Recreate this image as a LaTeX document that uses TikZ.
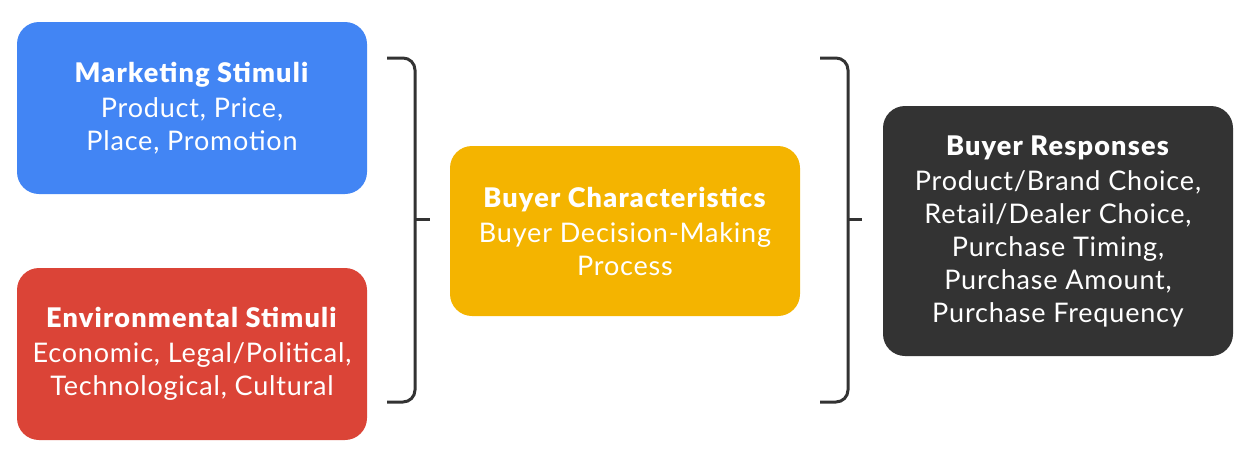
\documentclass[tikz,border=0pt]{standalone}
\usepackage{fontspec}
\setmainfont{Lato}[LetterSpace=3, BoldFont={Lato Black}, BoldFeatures={LetterSpace=4.5}]
\definecolor{cblue}{HTML}{4285F4}
\definecolor{cred}{HTML}{DB4437}
\definecolor{cyellow}{HTML}{F4B400}
\definecolor{cdark}{HTML}{333333}
\begin{document}
\begin{tikzpicture}[x=1pt,y=-1pt,
  card/.style={rounded corners=22pt, minimum width=350pt, inner sep=0pt, text=white, align=center,
    font=\fontsize{27}{33}\selectfont},
  brace/.style={draw=cdark, line width=3pt, rounded corners=12pt},
  tick/.style={draw=cdark, line width=3pt}]
\useasboundingbox (0,0) rectangle (1250,461);
\node[card, fill=cblue, minimum height=172pt] (ms) at (192,108)
  {\textbf{Marketing Stimuli}\\[2pt]Product, Price,\\Place, Promotion};
\node[card, fill=cred, minimum height=172pt] (es) at (192,354)
  {\textbf{Environmental Stimuli}\\[2pt]Economic, Legal/Political,\\Technological, Cultural};
\node[card, fill=cyellow, minimum height=170pt] (bc) at (625,231)
  {\textbf{Buyer Characteristics}\\[2pt]Buyer Decision-Making\\Process};
\node[card, fill=cdark, minimum height=250pt] (br) at (1058,231)
  {\textbf{Buyer Responses}\\[2pt]Product/Brand Choice,\\Retail/Dealer Choice,\\Purchase Timing,\\Purchase Amount,\\Purchase Frequency};
% left bracket
\coordinate (lt) at (387,58);
\coordinate (lb) at (387,402);
\coordinate (lm) at (415,219);
\coordinate (lme) at (430,219);
\draw[brace] (lt) -- (415,58) -- (415,402) -- (lb);
\draw[tick] (lm) -- (lme);
% right bracket
\coordinate (rt) at (820,58);
\coordinate (rb) at (820,402);
\coordinate (rm) at (848,219);
\coordinate (rme) at (862,219);
\draw[brace] (rt) -- (848,58) -- (848,402) -- (rb);
\draw[tick] (rm) -- (rme);
\end{tikzpicture}
\end{document}
